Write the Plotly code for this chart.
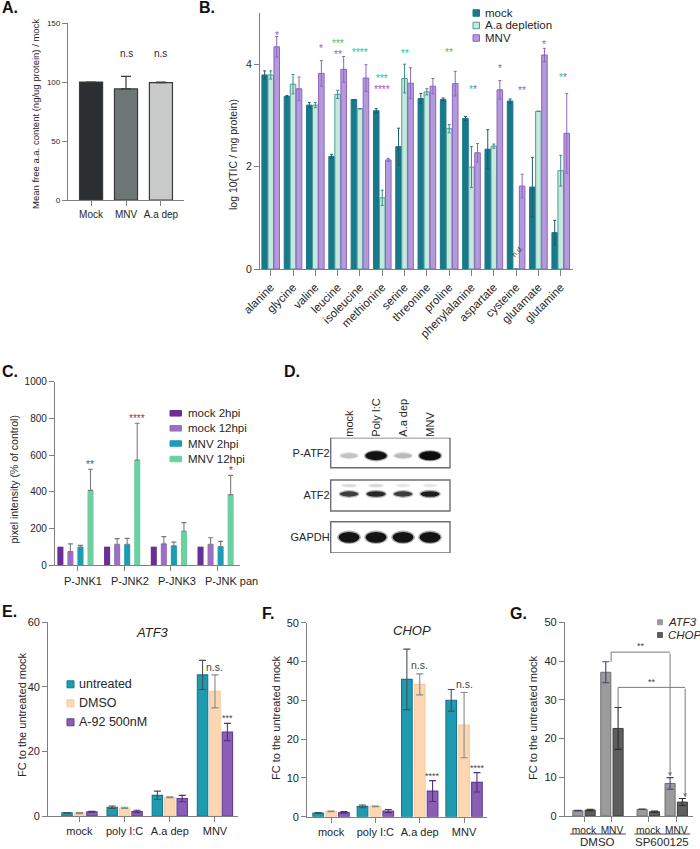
import plotly.graph_objects as go

W, H = 700, 849
FONT = "Arial, Liberation Sans, Helvetica, sans-serif"
TXT = "#262626"
AXC = "#808080"

# ---------------- data ----------------
# Panel A
a_cats = ["Mock", "MNV", "A.a dep"]
a_vals = [100.0, 94.1, 99.4]
a_err = [0.0, 10.7, 0.6]
a_sig = ["", "n.s", "n.s"]

# Panel B
b_cats = ["alanine", "glycine", "valine", "leucine", "isoleucine", "methionine", "serine",
          "threonine", "proline", "phenylalanine", "aspartate", "cysteine", "glutamate", "glutamine"]
b_mock = [3.79, 3.37, 3.20, 2.20, 3.31, 3.09, 2.39, 3.33, 3.31, 2.94, 2.34, 3.28, 1.60, 0.71]
b_mock_err = [0.08, 0.02, 0.05, 0.04, 0.0, 0.04, 0.36, 0.10, 0.03, 0.04, 0.38, 0.04, 0.58, 0.24]
b_aa = [3.79, 3.61, 3.20, 3.41, 3.13, 1.39, 3.72, 3.46, 2.74, 1.99, 2.40, 0.0, 3.08, 1.92]
b_aa_err = [0.08, 0.19, 0.05, 0.08, 0.0, 0.15, 0.28, 0.06, 0.08, 0.40, 0.04, 0.0, 0.0, 0.30]
b_mnv = [4.34, 3.52, 3.82, 3.90, 3.73, 2.13, 3.63, 3.57, 3.62, 2.27, 3.50, 1.62, 4.18, 2.65]
b_mnv_err = [0.20, 0.23, 0.25, 0.25, 0.26, 0.03, 0.30, 0.15, 0.24, 0.18, 0.18, 0.23, 0.13, 0.78]
b_names = ["mock", "A.a depletion", "MNV"]

# Panel C
c_cats = ["P-JNK1", "P-JNK2", "P-JNK3", "P-JNK pan"]
c_names = ["mock 2hpi", "mock 12hpi", "MNV 2hpi", "MNV 12hpi"]
c_mock2 = [100, 100, 100, 100]
c_mock12 = [73, 113, 115, 113]
c_mock12_err = [42, 31, 40, 36]
c_mnv2 = [98, 113, 105, 100]
c_mnv2_err = [9, 32, 20, 29]
c_mnv12 = [407, 573, 184, 384]
c_mnv12_err = [115, 200, 47, 105]
c_sig = ["**", "****", "", "*"]

# Panel D (western blot band intensities, 0..1)
d_lanes = ["mock", "Poly I:C", "A.a dep", "MNV"]
d_rows = ["P-ATF2", "ATF2", "GAPDH"]
d_patf2 = [0.18, 0.97, 0.22, 1.0]
d_atf2 = [0.78, 0.88, 0.78, 0.92]
d_atf2_upper = [0.10, 0.12, 0.04, 0.04]
d_gapdh = [0.97, 0.97, 0.97, 0.97]

# Panel E
e_cats = ["mock", "poly I:C", "A.a dep", "MNV"]
e_names = ["untreated", "DMSO", "A-92 500nM"]
e_untr = [1.0, 2.7, 6.4, 43.7]
e_untr_err = [0.1, 0.4, 1.3, 4.5]
e_dmso = [0.9, 2.5, 5.8, 38.6]
e_dmso_err = [0.15, 0.2, 0.15, 5.1]
e_a92 = [1.3, 1.4, 5.4, 26.0]
e_a92_err = [0.15, 0.4, 1.0, 2.7]
e_sig_dmso = ["", "", "", "n.s."]
e_sig_a92 = ["", "", "", "***"]

# Panel F
f_cats = ["mock", "poly I:C", "A.a dep", "MNV"]
f_untr = [0.95, 2.66, 35.4, 30.0]
f_untr_err = [0.1, 0.35, 7.8, 2.8]
f_dmso = [1.37, 2.66, 34.1, 23.6]
f_dmso_err = [0.1, 0.1, 2.7, 8.4]
f_a92 = [1.1, 1.46, 6.6, 8.85]
f_a92_err = [0.2, 0.4, 2.7, 2.5]
f_sig_dmso = ["", "", "n.s.", "n.s."]
f_sig_a92 = ["", "", "****", "****"]

# Panel G
g_groups = ["mock", "MNV", "mock", "MNV"]
g_treat = ["DMSO", "DMSO", "SP600125", "SP600125"]
g_names = ["ATF3", "CHOP"]
g_atf3 = [1.38, 37.1, 1.72, 8.4]
g_atf3_err = [0.1, 2.7, 0.05, 1.5]
g_chop = [1.55, 22.6, 1.1, 3.6]
g_chop_err = [0.2, 5.4, 0.2, 0.9]

# ---------------- helpers ----------------
fig = go.Figure()


def xd(a, b):
    return [a / W, b / W]


def yd(top, bot):
    return [1 - bot / H, 1 - top / H]


def px(p):
    return p / W


def py(p):
    return 1 - p / H


def axis(**kw):
    d = dict(showline=True, linecolor=AXC, linewidth=1.3, ticks="outside", ticklen=5,
             tickwidth=1.3, tickcolor=AXC, showgrid=False, zeroline=False, fixedrange=True,
             automargin=False, tickfont=dict(family=FONT, size=11, color=TXT))
    d.update(kw)
    return d


def text(x, y, t, size=11, color=TXT, xref="paper", yref="paper", xanchor="center",
         yanchor="middle", angle=0, xshift=0, yshift=0, **kw):
    fig.add_annotation(x=x, y=y, xref=xref, yref=yref, text=t, showarrow=False,
                       xanchor=xanchor, yanchor=yanchor, textangle=angle,
                       xshift=xshift, yshift=yshift,
                       font=dict(family=FONT, size=size, color=color), **kw)


def legend_items(x_sw, ycs, sw_w, sw_h, fills, lines, labels, x_txt, size, italic=False):
    for yc, fc, lc, lab in zip(ycs, fills, lines, labels):
        fig.add_shape(type="rect", xref="paper", yref="paper",
                      x0=px(x_sw), x1=px(x_sw + sw_w), y0=py(yc + sw_h / 2), y1=py(yc - sw_h / 2),
                      fillcolor=fc, line=dict(color=lc, width=1))
        t = f"<i>{lab}</i>" if italic else lab
        text(px(x_txt), py(yc), t, size=size, xanchor="left")


# ---------------- Panel A ----------------
fig.add_trace(go.Bar(
    x=a_cats, y=a_vals, xaxis="x", yaxis="y", width=0.66,
    marker=dict(color=["#2b2f31", "#6f7776", "#c9cbca"], line=dict(color="#3a3a3a", width=1.2)),
    error_y=dict(type="data", symmetric=False, array=a_err, arrayminus=[0] * 3,
                 color="#3a3a3a", thickness=1.2, width=5)))
for c, v, e, s in zip(a_cats, a_vals, a_err, a_sig):
    if s:
        text(c, 124, s, size=10, xref="x", yref="y")

# ---------------- Panel B ----------------
b_series = [
    (b_mock, b_mock_err, "#17798a", "#17798a", "#1b5e69", -0.395),
    (b_aa, b_aa_err, "#c5e9df", "#4d9c98", "#3d8d88", -0.125),
    (b_mnv, b_mnv_err, "#b39ad8", "#8f63c2", "#8f63c2", 0.145),
]
for (vals, err, fc, lc, ec, off), nm in zip(b_series, b_names):
    fig.add_trace(go.Bar(
        x=b_cats, y=vals, name=nm, xaxis="x2", yaxis="y2", offset=off, width=0.25,
        marker=dict(color=fc, line=dict(color=lc, width=1)),
        error_y=dict(type="data", array=err, color=ec, thickness=1, width=1.5)))

GR = "#2fbf7a"
PU = "#9157c9"
b_marks = [
    ("alanine", 4.62, f"<span style='color:{PU}'>*</span>", 6),
    ("valine", 4.36, f"<span style='color:{PU}'>*</span>", 6),
    ("leucine", 4.46, f"<span style='color:{GR}'>***</span>", 0),
    ("leucine", 4.25, f"<span style='color:{PU}'>**</span>", 0),
    ("isoleucine", 4.29, f"<span style='color:{GR}'>****</span>", 0),
    ("methionine", 3.78, f"<span style='color:{GR}'>***</span>", 0),
    ("methionine", 3.56, f"<span style='color:{PU}'>****</span>", 0),
    ("serine", 4.27, f"<span style='color:{GR}'>**</span>", 0),
    ("proline", 4.29, f"<span style='color:{GR}'>**</span>", 0),
    ("phenylalanine", 3.56, f"<span style='color:{GR}'>*</span><span style='color:{PU}'>*</span>", 2),
    ("aspartate", 3.98, f"<span style='color:{PU}'>*</span>", 6),
    ("cysteine", 3.54, f"<span style='color:{PU}'>**</span>", 6),
    ("glutamate", 4.44, f"<span style='color:{PU}'>*</span>", 6),
    ("glutamine", 3.79, f"<span style='color:{GR}'>*</span><span style='color:{PU}'>*</span>", 2),
]
for c, y, t, sh in b_marks:
    text(c, y, t, size=10, xref="x2", yref="y2", xshift=sh, yshift=-3)
text("cysteine", 0.35, "n.d.", size=7.5, color="#444", xref="x2", yref="y2", angle=-45, xshift=1)

legend_items(473, [13, 25.5, 38], 6.5, 6.5, ["#17798a", "#c5e9df", "#b39ad8"],
             ["#17798a", "#4d9c98", "#8f63c2"], b_names, 482.5, 11.5)

# ---------------- Panel C ----------------
c_series = [
    (c_mock2, None, "#6a2f97", -0.43),
    (c_mock12, c_mock12_err, "#9b6fc4", -0.215),
    (c_mnv2, c_mnv2_err, "#1d9db3", 0.0),
    (c_mnv12, c_mnv12_err, "#6dd0a0", 0.215),
]
for (vals, err, fc, off), nm in zip(c_series, c_names):
    eb = None
    if err is not None:
        eb = dict(type="data", symmetric=False, array=err, arrayminus=[0] * 4,
                  color="#7a7a7a", thickness=1.1, width=2.5)
    fig.add_trace(go.Bar(x=c_cats, y=vals, name=nm, xaxis="x3", yaxis="y3", offset=off,
                         width=0.13, marker=dict(color=fc, line=dict(width=0)), error_y=eb))
for c, v, e, s in zip(c_cats, c_mnv12, c_mnv12_err, c_sig):
    if s:
        text(c, v + e + 45, s, size=10, color="#555", xref="x3", yref="y3", xshift=13, yshift=-3)
for c in c_cats:
    text(c, py(580.5), c, size=11, xref="x3", yref="paper", xanchor="left", xshift=-15)
legend_items(170, [413.3, 428.3, 443.5, 459], 11.5, 5.5, ["#6a2f97", "#9b6fc4", "#1d9db3", "#6dd0a0"],
             ["#6a2f97", "#9b6fc4", "#1d9db3", "#6dd0a0"], c_names, 186.5, 11.5)

# ---------------- Panel D (blot) ----------------
row_c = [-15.0, -57.8, -99.6]
boxes = [(0, -30), (-42.3, -73.3), (-84, -115.3)]
for (y0, y1) in boxes:
    fig.add_shape(type="rect", xref="x4 domain", yref="y4", x0=0, x1=1, y0=y0, y1=y1,
                  line=dict(color="#6f6f6f", width=1.4), fillcolor="white", layer="below")


def band(lane, yc, inten, hmax, wbase):
    g = int(235 - 222 * inten)
    col = f"rgb({g},{g},{g})"
    w = wbase * (0.75 + 0.25 * inten)
    h = hmax * (0.45 + 0.55 * inten)
    fig.add_shape(type="circle", xref="x4", yref="y4", x0=lane - w / 2 - 0.05, x1=lane + w / 2 + 0.05,
                  y0=yc - h / 2 - 1.3, y1=yc + h / 2 + 1.3, fillcolor=col, opacity=0.35, line_width=0)
    fig.add_shape(type="circle", xref="x4", yref="y4", x0=lane - w / 2, x1=lane + w / 2,
                  y0=yc - h / 2, y1=yc + h / 2, fillcolor=col, line_width=0)


for i, v in enumerate(d_patf2):
    band(i, row_c[0] - 3, v, 9, 0.8)
for i, v in enumerate(d_atf2_upper):
    band(i, row_c[1] + 10, v, 4, 0.65)
for i, v in enumerate(d_atf2):
    band(i, row_c[1] + 1.5, v, 6, 0.72)
for i, v in enumerate(d_gapdh):
    band(i, row_c[2], v, 11, 0.78)
# invisible trace to establish the blot axes
fig.add_trace(go.Scatter(x=d_lanes, y=[row_c[0]] * 4, xaxis="x4", yaxis="y4", mode="markers",
                         marker=dict(opacity=0), hoverinfo="skip"))

# ---------------- Panel E ----------------
E_FILL = ["#1f9bb1", "#fdd6b2", "#8b5db6"]
E_LINE = ["#17778a", "#f5cba3", "#643d8f"]
E_ERR = ["#4a4f52", "#8a8a8a", "#4f2f78"]


def three_bars(cats, series, xa, ya, offs, width):
    for (vals, err), fc, lc, ec, off, nm in zip(series, E_FILL, E_LINE, E_ERR, offs, e_names):
        fig.add_trace(go.Bar(x=cats, y=vals, name=nm, xaxis=xa, yaxis=ya, offset=off, width=width,
                             marker=dict(color=fc, line=dict(color=lc, width=1.1)),
                             error_y=dict(type="data", array=err, color=ec, thickness=1.1, width=3.5)))


three_bars(e_cats, [(e_untr, e_untr_err), (e_dmso, e_dmso_err), (e_a92, e_a92_err)], "x5", "y5",
           [-0.39, -0.115, 0.16], 0.23)
for c, v, e, s in zip(e_cats, e_dmso, e_dmso_err, e_sig_dmso):
    if s:
        text(c, v + e + 2.5, s, size=10.5, color="#444", xref="x5", yref="y5")
for c, v, e, s in zip(e_cats, e_a92, e_a92_err, e_sig_a92):
    if s:
        text(c, v + e + 2.5, s, size=9, color="#444", xref="x5", yref="y5", xshift=12.5, yshift=-3)
text(px(152), py(632), "<i>ATF3</i>", size=13)
legend_items(67, [684.3, 703.3, 722.3], 7, 7, E_FILL, E_LINE, e_names, 77, 12.5)

# ---------------- Panel F ----------------
three_bars(f_cats, [(f_untr, f_untr_err), (f_dmso, f_dmso_err), (f_a92, f_a92_err)], "x6", "y6",
           [-0.41, -0.12, 0.17], 0.24)
for c, v, e, s in zip(f_cats, f_dmso, f_dmso_err, f_sig_dmso):
    if s:
        text(c, v + e + 2.3, s, size=10.5, color="#444", xref="x6", yref="y6")
for c, v, e, s in zip(f_cats, f_a92, f_a92_err, f_sig_a92):
    if s:
        text(c, v + e + 2.0, s, size=9, color="#444", xref="x6", yref="y6", xshift=13, yshift=-3)
text(px(411.7), py(630), "<i>CHOP</i>", size=13)

# ---------------- Panel G ----------------
g_pos = [i + (0.3 if t != g_treat[0] else 0.0) for i, t in enumerate(g_treat)]
fig.add_trace(go.Bar(x=g_pos, y=g_atf3, name=g_names[0], xaxis="x7", yaxis="y7", offset=-0.4, width=0.36,
                     marker=dict(color="#9b9b9b", line=dict(color="#6d6d6d", width=1)),
                     error_y=dict(type="data", array=g_atf3_err, color="#4a3c7a", thickness=1.1, width=3.5)))
fig.add_trace(go.Bar(x=g_pos, y=g_chop, name=g_names[1], xaxis="x7", yaxis="y7", offset=0.04, width=0.36,
                     marker=dict(color="#5e5e5e", line=dict(color="#3e3e3e", width=1)),
                     error_y=dict(type="data", array=g_chop_err, color="#2e2e2e", thickness=1.1, width=3.5)))
BR = "#7a7a7a"
h1, h2 = 42.3, 33.2
xa1 = g_pos[1] - 0.22 + 0.19
xb1 = g_pos[3] - 0.22
fig.add_trace(go.Scatter(x=[xa1, xa1, xb1], y=[g_atf3[1] + g_atf3_err[1], h1, h1], xaxis="x7", yaxis="y7",
                         mode="lines", line=dict(color=BR, width=1), hoverinfo="skip"))
fig.add_annotation(x=xb1, y=g_atf3[3] + g_atf3_err[3] + 0.3, ax=xb1, ay=h1, xref="x7", yref="y7",
                   axref="x7", ayref="y7", showarrow=True, arrowhead=2, arrowsize=0.8, arrowwidth=1,
                   arrowcolor=BR, text="", standoff=0)
xa2 = g_pos[1] + 0.22
xb2 = g_pos[3] + 0.22 + 0.1
fig.add_trace(go.Scatter(x=[xa2, xa2, xb2], y=[g_chop[1] + g_chop_err[1], h2, h2], xaxis="x7", yaxis="y7",
                         mode="lines", line=dict(color=BR, width=1), hoverinfo="skip"))
fig.add_annotation(x=xb2, y=g_chop[3] + g_chop_err[3] + 0.3, ax=xb2, ay=h2, xref="x7", yref="y7",
                   axref="x7", ayref="y7", showarrow=True, arrowhead=2, arrowsize=0.8, arrowwidth=1,
                   arrowcolor=BR, text="", standoff=0)
text((xa1 + xb1) / 2, h1 + 1.5, "**", size=9, color="#444", xref="x7", yref="y7")
text((xa2 + xb2) / 2, h2 + 1.5, "**", size=9, color="#444", xref="x7", yref="y7")
for tr in ["DMSO", "SP600125"]:
    ps = [p for p, t in zip(g_pos, g_treat) if t == tr]
    fig.add_shape(type="line", xref="x7", yref="paper", x0=min(ps) - 0.5, x1=max(ps) + 0.5,
                  y0=py(834), y1=py(834), line=dict(color="#444", width=1))
    text((min(ps) + max(ps)) / 2, py(842), tr, size=11.5, xref="x7", yref="paper")
legend_items(657.5, [622.3, 635], 5, 5, ["#9b9b9b", "#5e5e5e"], ["#9b9b9b", "#5e5e5e"], g_names, 666, 11.5,
             italic=True)

# ---------------- y titles & panel letters ----------------
text(px(35), py(114), "Mean free a.a. content (ng/ug protein) / mock", size=9.5, angle=-90)
text(px(233), py(155), "log 10(TIC / mg protein)", size=10.5, angle=-90)
text(px(13.5), py(480), "pixel intensity (% of control)", size=10.5, angle=-90)
text(px(22), py(715), "FC to the untreated mock", size=11, angle=-90)
text(px(276), py(718), "FC to the untreated mock", size=11, angle=-90)
text(px(533), py(718), "FC to the untreated mock", size=11, angle=-90)

for lab, x, y in [("A.", 0, 8), ("B.", 197, 8), ("C.", 0, 371), ("D.", 282, 371),
                  ("E.", 0, 611), ("F.", 260, 613), ("G.", 508, 613)]:
    text(px(x), py(y), f"<b>{lab}</b>", size=16, color="#111", xanchor="left")

# ---------------- layout ----------------
fig.update_layout(
    width=W, height=H, autosize=False, margin=dict(l=0, r=0, t=0, b=0, pad=0, autoexpand=False),
    paper_bgcolor="white", plot_bgcolor="white", showlegend=False, barmode="overlay",
    font=dict(family=FONT, color=TXT),
    xaxis=axis(domain=xd(68, 184), anchor="y", range=[-0.66, 2.66], type="category", tickangle=0,
               tickfont=dict(family=FONT, size=10, color=TXT)),
    yaxis=axis(domain=yd(23, 200), anchor="x", range=[0, 150], tickvals=[0, 50, 100, 150],
               tickfont=dict(family=FONT, size=8, color=TXT)),
    xaxis2=axis(domain=xd(260, 573), anchor="y2", range=[-0.48, 13.55], type="category",
                tickangle=-45, ticklen=6, tickfont=dict(family=FONT, size=11.5, color=TXT)),
    yaxis2=axis(domain=yd(13, 269), anchor="x2", range=[0, 5], tickvals=[0, 2, 4],
                tickfont=dict(family=FONT, size=10.5, color=TXT)),
    xaxis3=axis(domain=xd(55, 240), anchor="y3", range=[-0.48, 3.48], type="category", tickangle=0,
                showticklabels=False),
    yaxis3=axis(domain=yd(381.7, 565), anchor="x3", range=[0, 1000], dtick=200,
                tickfont=dict(family=FONT, size=10, color=TXT)),
    xaxis4=dict(domain=xd(330.7, 450), anchor="y4", range=[-0.68, 3.74], type="category",
                side="top", tickangle=-90, showline=False, ticks="", showgrid=False, zeroline=False,
                fixedrange=True, automargin=False, tickfont=dict(family=FONT, size=11, color=TXT)),
    yaxis4=dict(domain=yd(437.7, 553), anchor="x4", range=[-115.3, 0], tickvals=row_c, ticktext=d_rows,
                showline=False, ticks="", showgrid=False, zeroline=False, fixedrange=True,
                automargin=False, tickfont=dict(family=FONT, size=11, color=TXT)),
    xaxis5=axis(domain=xd(48.3, 238), anchor="y5", range=[-0.69, 3.51], type="category", tickangle=0),
    yaxis5=axis(domain=yd(622.3, 816), anchor="x5", range=[0, 60], dtick=20),
    xaxis6=axis(domain=xd(307.3, 486.7), anchor="y6", range=[-0.535, 3.51], type="category", tickangle=0),
    yaxis6=axis(domain=yd(622.7, 816.7), anchor="x6", range=[0, 50], dtick=10),
    xaxis7=axis(domain=xd(565, 693), anchor="y7", range=[-0.68, 3.9], tickvals=g_pos, ticktext=g_groups,
                tickangle=0, tickfont=dict(family=FONT, size=10.2, color=TXT)),
    yaxis7=axis(domain=yd(622.3, 816), anchor="x7", range=[0, 50], dtick=10),
)

fig.write_html("out.html", config={"displayModeBar": False},
               post_script="document.body.style.margin='0';document.body.style.overflow='hidden';")
